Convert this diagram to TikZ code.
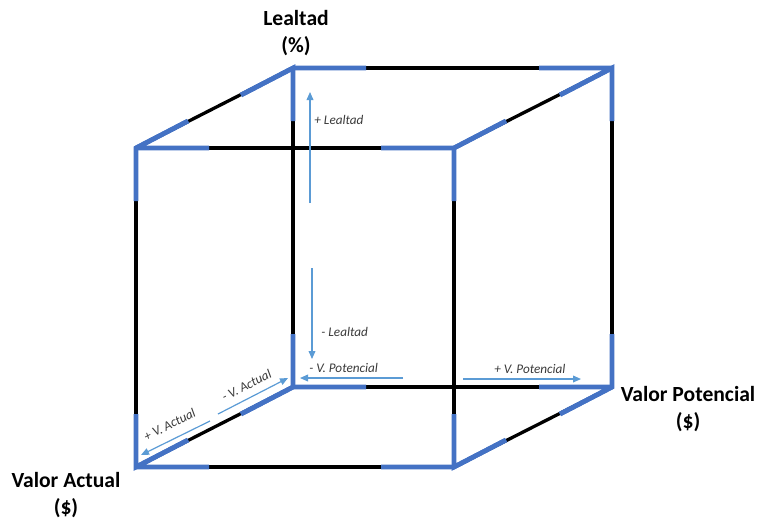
\documentclass[tikz,border=0pt]{standalone}
\usepackage{fontspec}
\setmainfont{Carlito}
\usetikzlibrary{arrows.meta, calc}

\definecolor{edgeblue}{HTML}{4472C4}
\definecolor{arrowblue}{HTML}{5B9BD5}
\definecolor{labelgray}{HTML}{3A3A3A}

\begin{document}
\begin{tikzpicture}[x=0.5pt, y=-0.5pt, >={Triangle[length=4pt,width=3.4pt]},
    blackedge/.style={draw=black, line width=1.65pt},
    blueedge/.style={draw=edgeblue, line width=2.35pt, line join=miter, miter limit=3},
    axisarrow/.style={->, draw=arrowblue, line width=0.6pt},
    axislabel/.style={font=\itshape\fontsize{6.6}{8}\selectfont, text=labelgray, inner sep=0pt},
    axistitle/.style={font=\bfseries\fontsize{10.8}{13.6}\selectfont, align=center, inner sep=0pt}]
    \useasboundingbox (0,0) rectangle (758,521);

    % cube corners
    \coordinate (ftl) at (136,148);
    \coordinate (ftr) at (454,148);
    \coordinate (fbl) at (136,467);
    \coordinate (fbr) at (454,467);
    \coordinate (btl) at (293,68);
    \coordinate (btr) at (612,68);
    \coordinate (bbl) at (293,387);
    \coordinate (bbr) at (612,387);

    % edges
    \foreach \a/\b in {ftl/ftr, fbl/fbr, btl/btr, bbl/bbr, ftl/fbl, ftr/fbr, btl/bbl, btr/bbr,
                       ftl/btl, ftr/btr, fbl/bbl, fbr/bbr}
        \draw[blackedge] (\a) -- (\b);

    % blue ends at every corner
    \foreach \c/\h/\v/\d in {ftl/1/1/1, ftr/-1/1/1, fbl/1/-1/1, fbr/-1/-1/1,
                             btl/1/1/-1, btr/-1/1/-1, bbl/1/-1/-1, bbr/-1/-1/-1} {
        \draw[blueedge] ($(\c)+(\h*73,0)$) -- (\c) -- ($(\c)+(0,\v*53)$);
        \draw[blueedge] ($(\c)+(\d*52,\d*-27)$) -- (\c) -- ($(\c)+(\h*73,0)$);
        \draw[blueedge] ($(\c)+(0,\v*53)$) -- (\c) -- ($(\c)+(\d*52,\d*-27)$);
    }

    % axis titles
    \node[axistitle] (lealtad) at (296,33) {Lealtad\\(\%)};
    \node[axistitle] (potencial) at (688,409) {Valor Potencial\\(\$)};
    \node[axistitle] (actual) at (66,495) {Valor Actual\\(\$)};

    % direction arrows
    \coordinate (upfrom) at (310,203);
    \coordinate (upto) at (310,92);
    \coordinate (downfrom) at (312,268);
    \coordinate (downto) at (312,359);
    \coordinate (leftfrom) at (403,378);
    \coordinate (leftto) at (300,378);
    \coordinate (rightfrom) at (463,379);
    \coordinate (rightto) at (581,379);
    \coordinate (backfrom) at (218,414);
    \coordinate (backto) at (288,378);
    \coordinate (frontfrom) at (210,421);
    \coordinate (frontto) at (141,455);

    \draw[axisarrow] (upfrom) -- (upto);
    \draw[axisarrow] (downfrom) -- (downto);
    \draw[axisarrow] (leftfrom) -- (leftto);
    \draw[axisarrow] (rightfrom) -- (rightto);
    \draw[axisarrow] (backfrom) -- (backto);
    \draw[axisarrow] (frontfrom) -- (frontto);

    % direction labels
    \node[axislabel, anchor=west] (masleal) at (314,120) {+ Lealtad};
    \node[axislabel, anchor=west] (menosleal) at (321,332) {- Lealtad};
    \node[axislabel, anchor=west] (menospot) at (309,368) {- V. Potencial};
    \node[axislabel, anchor=west] (maspot) at (494,369) {+ V. Potencial};
    \node[axislabel, rotate=27] (menosact) at (246.5,385.5) {- V. Actual};
    \node[axislabel, rotate=27] (masact) at (169.5,424.5) {+ V. Actual};
\end{tikzpicture}
\end{document}
